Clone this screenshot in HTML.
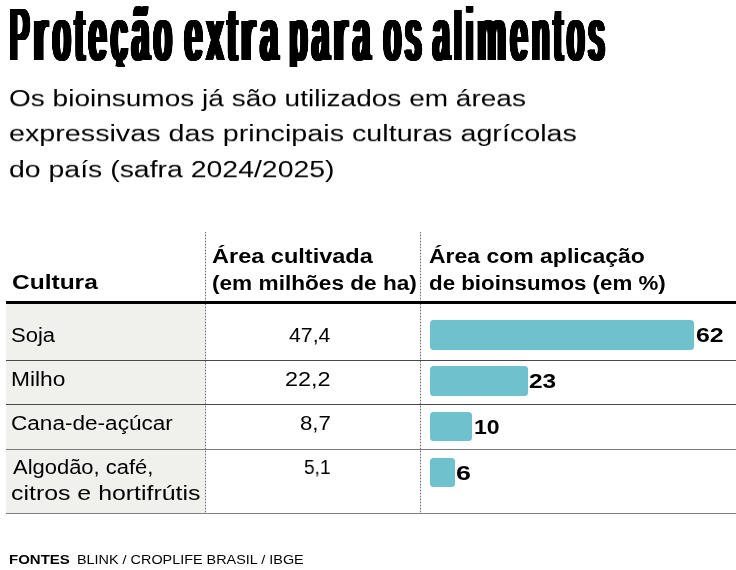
<!DOCTYPE html>
<html lang="pt-BR">
<head>
<meta charset="utf-8">
<title>Proteção extra para os alimentos</title>
<style>
html,body{margin:0;padding:0;background:#fff;}
body{width:736px;height:570px;position:relative;overflow:hidden;font-family:"Liberation Sans", sans-serif;color:#000;}
h1,p,footer,section,div{margin:0;padding:0;}
h1{font-size:0;font-weight:normal;}
.t{position:absolute;margin:0;white-space:nowrap;transform-origin:0 0;color:#000;font-kerning:normal;will-change:transform;}
.tw{font-size:74px;line-height:74px;font-weight:400;letter-spacing:12.6px;text-shadow:0.63px 0 0 #000,-0.63px 0 0 #000,1.26px 0 0 #000,-1.26px 0 0 #000,1.89px 0 0 #000,-1.89px 0 0 #000,2.52px 0 0 #000,-2.52px 0 0 #000,3.15px 0 0 #000,-3.15px 0 0 #000,3.78px 0 0 #000,-3.78px 0 0 #000,4.41px 0 0 #000,-4.41px 0 0 #000,5.04px 0 0 #000,-5.04px 0 0 #000,5.67px 0 0 #000,-5.67px 0 0 #000,6.30px 0 0 #000,-6.30px 0 0 #000;}.asc{display:inline-block;transform-origin:0 62.50px;}
.colbg{position:absolute;left:6px;top:303px;width:199px;height:210px;background:#f0f0ec;}
.thick{position:absolute;left:6px;top:300.8px;width:730px;height:3.2px;background:#000;}
.hl{position:absolute;left:6px;width:730px;height:1px;background:#484848;}
.vl{position:absolute;top:232px;height:282px;width:1px;background:repeating-linear-gradient(to bottom,#686868 0,#686868 1px,#d2d2d2 1px,#d2d2d2 3px);}
.bar{position:absolute;left:429.8px;height:29.5px;background:#6fc1cd;border-radius:3.5px;}
</style>
</head>
<body>
<header>
<h1><span class="t tw" style="left:10.41px;top:-2.30px;transform:scaleX(0.4142);clip-path:inset(-30px -30px 5.20px -30px);"><span class="asc" style="transform:scale(0.95,1.0);margin-right:-3.10px;">P</span><span class="asc" style="transform:scale(1.22,1.0);margin-right:8.19px;">r</span>o<span class="asc" style="transform:scale(1.0,1.03);">t</span>eção</span> <span class="t tw" style="left:184.86px;top:-2.30px;transform:scaleX(0.4156);clip-path:inset(-30px -30px 5.20px -30px);">ex<span class="asc" style="transform:scale(1.0,1.03);">t</span><span class="asc" style="transform:scale(1.22,1.0);margin-right:8.19px;">r</span>a</span> <span class="t tw" style="left:289.99px;top:-2.30px;transform:scaleX(0.4118);clip-path:inset(-30px -30px 5.20px -30px);">pa<span class="asc" style="transform:scale(1.22,1.0);margin-right:8.19px;">r</span>a</span> <span class="t tw" style="left:383.52px;top:-2.30px;transform:scaleX(0.4051);clip-path:inset(-30px -30px 5.20px -30px);">os</span> <span class="t tw" style="left:432.60px;top:-2.30px;transform:scaleX(0.4022);clip-path:inset(-30px -30px 5.20px -30px);">a<span class="asc" style="transform:scale(1.0,0.925);">l</span>i<span class="asc" style="transform:scale(1.1,1.0);margin-right:7.42px;">m</span>en<span class="asc" style="transform:scale(1.0,1.03);">t</span>os</span></h1>
<p class="sub">
<span class="t" style="left:9.08px;top:88.08px;font-size:23px;line-height:23px;font-weight:400;transform:scale(1.2179,0.96);">Os bioinsumos já são utilizados em áreas</span>
<span class="t" style="left:8.68px;top:123.18px;font-size:23px;line-height:23px;font-weight:400;transform:scale(1.2479,0.96);">expressivas das principais culturas agrícolas</span>
<span class="t" style="left:8.89px;top:159.08px;font-size:23px;line-height:23px;font-weight:400;transform:scale(1.2361,0.96);">do país (safra 2024/2025)</span>
</p>
</header>
<section class="table" role="table">
<div class="colbg"></div>
<div class="vl" style="left:205px"></div>
<div class="vl" style="left:420px"></div>
<div class="thead" role="row">
<span class="t" style="left:12.02px;top:272.00px;font-size:20px;line-height:20px;font-weight:700;transform:scale(1.2252,1.0);">Cultura</span>
<span class="t" style="left:211.83px;top:246.00px;font-size:20px;line-height:20px;font-weight:700;transform:scale(1.1758,1.0);">Área cultivada</span>
<span class="t" style="left:211.78px;top:273.00px;font-size:20px;line-height:20px;font-weight:700;transform:scale(1.1311,1.0);">(em milhões de ha)</span>
<span class="t" style="left:428.54px;top:246.00px;font-size:20px;line-height:20px;font-weight:700;transform:scale(1.1486,1.0);">Área com aplicação</span>
<span class="t" style="left:429.11px;top:273.00px;font-size:20px;line-height:20px;font-weight:700;transform:scale(1.1155,1.0);">de bioinsumos (em %)</span>
<div class="thick"></div>
</div>
<div class="tr" role="row">
<span class="t" style="left:11.21px;top:324.80px;font-size:20px;line-height:20px;font-weight:400;transform:scale(1.1019,1.0);">Soja</span>
<span class="t" style="left:288.87px;top:325.00px;font-size:20px;line-height:20px;font-weight:400;transform:scale(1.0631,1.0);">47,4</span>
<div class="bar" style="top:319.8px;width:264.2px;height:29.8px"></div>
<span class="t" style="left:695.53px;top:324.80px;font-size:20px;line-height:20px;font-weight:700;transform:scale(1.2438,1.0);">62</span>
<div class="hl" style="top:360px"></div>
</div>
<div class="tr" role="row">
<span class="t" style="left:11.38px;top:369.00px;font-size:20px;line-height:20px;font-weight:400;transform:scale(1.1373,1.0);">Milho</span>
<span class="t" style="left:285.23px;top:369.00px;font-size:20px;line-height:20px;font-weight:400;transform:scale(1.1702,1.0);">22,2</span>
<div class="bar" style="top:365.8px;width:97.9px;height:29.8px"></div>
<span class="t" style="left:528.87px;top:370.60px;font-size:20px;line-height:20px;font-weight:700;transform:scale(1.2235,1.0);">23</span>
<div class="hl" style="top:404px"></div>
</div>
<div class="tr" role="row">
<span class="t" style="left:11.47px;top:412.60px;font-size:20px;line-height:20px;font-weight:400;transform:scale(1.1284,1.0);">Cana-de-açúcar</span>
<span class="t" style="left:299.91px;top:412.80px;font-size:20px;line-height:20px;font-weight:400;transform:scale(1.1081,1.0);">8,7</span>
<div class="bar" style="top:411.8px;width:42.4px;height:29.4px"></div>
<span class="t" style="left:474.22px;top:417.20px;font-size:20px;line-height:20px;font-weight:700;transform:scale(1.1514,1.0);">10</span>
<div class="hl" style="top:448.8px;height:1.4px;background:#7c7c7c"></div>
</div>
<div class="tr" role="row">
<span class="t" style="left:12.60px;top:456.80px;font-size:20px;line-height:20px;font-weight:400;transform:scale(1.0974,1.0);">Algodão, café,</span>
<span class="t" style="left:11.40px;top:482.80px;font-size:20px;line-height:20px;font-weight:400;transform:scale(1.2443,1.0);">citros e hortifrútis</span>
<span class="t" style="left:304.04px;top:456.60px;font-size:20px;line-height:20px;font-weight:400;transform:scale(0.9548,1.0);">5,1</span>
<div class="bar" style="top:457.9px;width:25.5px;height:29.0px"></div>
<span class="t" style="left:456.26px;top:463.20px;font-size:20px;line-height:20px;font-weight:700;transform:scale(1.3402,1.0);">6</span>
<div class="hl" style="top:512.6px;height:1.5px;background:#808080"></div>
</div>
</section>
<footer>
<span class="t" style="left:8.88px;top:553.40px;font-size:13px;line-height:13px;font-weight:700;transform:scale(1.1525,1.0);">FONTES</span>
<span class="t" style="left:77.19px;top:553.40px;font-size:13px;line-height:13px;font-weight:400;transform:scale(1.1075,1.0);">BLINK / CROPLIFE BRASIL / IBGE</span>
</footer>
</body>
</html>
